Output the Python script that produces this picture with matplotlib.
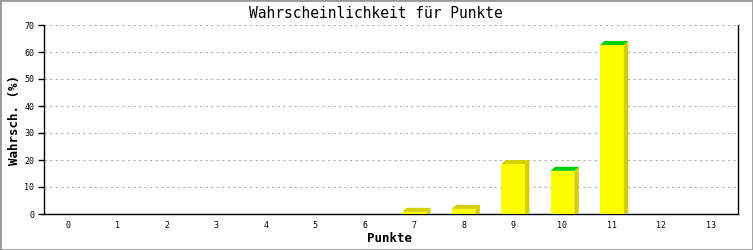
import matplotlib
matplotlib.use("Agg")
import matplotlib.pyplot as plt
from matplotlib.patches import Polygon, Rectangle

categories = list(range(14))
values = [0, 0, 0, 0, 0, 0, 0, 0.8, 1.9, 18.5, 16.0, 62.6, 0, 0]
top_colors = ["#d4d000"] * 10 + ["#00d000", "#00d000"] + ["#d4d000"] * 2
yticks = [0, 10, 20, 30, 40, 50, 60, 70]

front_color = "#ffff00"
side_color = "#d4d000"

W, H = 753, 250
fig = plt.figure(figsize=(W / 100, H / 100), dpi=100)
fig.patch.set_facecolor("white")
ax = fig.add_axes([44 / W, (H - 214) / H, (738 - 44) / W, (214 - 25) / H])

mono = "DejaVu Sans Mono"
bw = 0.48
ax.set_xlim(-0.485, 13.55)
ax.set_ylim(0, 70)

dxp, dyp = 4.5, 4
inv = fig.transFigure.inverted()
tr = ax.transData

for x, v, tc in zip(categories, values, top_colors):
    if v <= 0:
        continue
    l, r = x - bw / 2, x + bw / 2
    p_fr_b = tr.transform((r, 0))
    p_fr_t = tr.transform((r, v))
    p_fl_t = tr.transform((l, v))
    side = Polygon([inv.transform(p_fr_b), inv.transform(p_fr_t),
                    inv.transform((p_fr_t[0] + dxp, p_fr_t[1] + dyp)),
                    inv.transform((p_fr_b[0] + dxp, p_fr_b[1] + 1))],
                   closed=True, transform=fig.transFigure, facecolor=side_color,
                   edgecolor="none", zorder=3)
    top = Polygon([inv.transform(p_fl_t), inv.transform(p_fr_t),
                   inv.transform((p_fr_t[0] + dxp, p_fr_t[1] + dyp)),
                   inv.transform((p_fl_t[0] + dxp, p_fl_t[1] + dyp))],
                  closed=True, transform=fig.transFigure, facecolor=tc,
                  edgecolor="none", zorder=3)
    fig.add_artist(side)
    fig.add_artist(top)
    ax.bar(x, v, width=bw, color=front_color, edgecolor="none", zorder=4)

ax.set_yticks(yticks)
ax.set_yticklabels([str(t) for t in yticks], fontsize=6, family=mono)
ax.set_xticks(categories)
ax.set_xticklabels([str(c) for c in categories], fontsize=6, family=mono)
ax.tick_params(axis="x", length=0, pad=5)
ax.tick_params(axis="y", length=4, width=1, pad=3, direction="out")
ax.yaxis.grid(True, linestyle=(0, (2, 3)), color="#b0b0b0", linewidth=0.8)
ax.set_axisbelow(True)
for s in ["left", "bottom", "right"]:
    ax.spines[s].set_color("black")
    ax.spines[s].set_linewidth(1)
ax.spines["top"].set_visible(False)

fig.text(389 / W, 1 - 239 / H, "Punkte", ha="center", va="center",
         fontsize=9, family=mono, fontweight="bold")
fig.text(15 / W, 1 - 120 / H, "Wahrsch. (%)", ha="center", va="center", rotation=90,
         fontsize=9, family=mono, fontweight="bold")
fig.text(376 / W, 1 - 14 / H, "Wahrscheinlichkeit für Punkte", ha="center", va="center",
         fontsize=10.5, family=mono)

fig.add_artist(Rectangle((0, 0), 1, 1, transform=fig.transFigure, fill=False,
                         edgecolor="#999999", linewidth=2))

fig.savefig("out.png", dpi=100)
